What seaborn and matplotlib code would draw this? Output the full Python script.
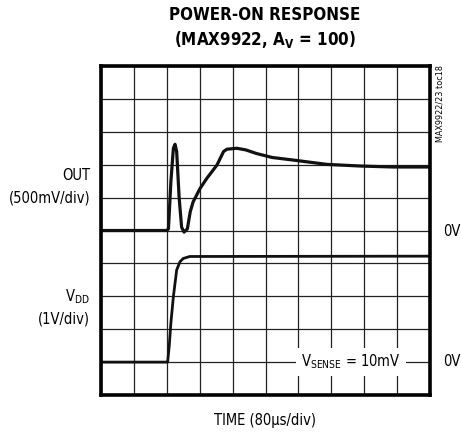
import numpy as np
import pandas as pd
import matplotlib
matplotlib.use('Agg')
import matplotlib.pyplot as plt
import seaborn as sns

# scope settings
time_per_div = 80      # us/div
out_per_div = 500      # mV/div
vdd_per_div = 1        # V/div

# OUT trace (time in us, voltage in mV)
out_time = [0, 160, 164, 170, 176, 180, 184, 190, 196, 202, 210, 217,
            224, 241, 257, 282, 298, 306, 330, 352, 378, 416, 468,
            549, 630, 710, 800]
out_mv = [0, 0, 25, 750, 1250, 1310, 1200, 500, 50, -25, 25, 285,
          435, 640, 790, 995, 1200, 1235, 1250, 1225, 1170, 1110, 1070,
          1005, 980, 965, 965]

# VDD trace (time in us, voltage in V)
vdd_time = [0, 162, 166, 170, 176, 184, 192, 200, 216, 800]
vdd_v = [0, 0, 0.5, 1.2, 1.99, 2.8, 3.05, 3.15, 3.21, 3.22]

out_zero_div = 5
vdd_zero_div = 1

df_out = pd.DataFrame({'x': np.array(out_time) / time_per_div,
                       'y': out_zero_div + np.array(out_mv) / out_per_div})
df_vdd = pd.DataFrame({'x': np.array(vdd_time) / time_per_div,
                       'y': vdd_zero_div + np.array(vdd_v) / vdd_per_div})

sns.set_style('white')
plt.rcParams['font.family'] = ['DejaVu Sans']
plt.rcParams['font.stretch'] = 'condensed'
plt.rcParams['text.color'] = 'black'

fig = plt.figure(figsize=(4.61, 4.32), dpi=100)
ax = fig.add_axes([101 / 461, 1 - 395 / 432, 329 / 461, 329 / 432])

sns.lineplot(data=df_out, x='x', y='y', ax=ax, color='#111111', linewidth=2.3)
sns.lineplot(data=df_vdd, x='x', y='y', ax=ax, color='#111111', linewidth=2.0)

ax.set_xlim(0, 10)
ax.set_ylim(0, 10)
ax.set_xticks(range(11))
ax.set_yticks(range(11))
ax.grid(True, color='#222222', linewidth=0.9)
ax.tick_params(length=0, labelbottom=False, labelleft=False)
ax.set_xlabel('')
ax.set_ylabel('')
for s in ax.spines.values():
    s.set_linewidth(2.6)
    s.set_color('black')

ax.text(7.6, vdd_zero_div, r'V$_{\mathregular{SENSE}}$ = 10mV', ha='center', va='center',
        fontsize=10.5, bbox=dict(facecolor='white', edgecolor='none', pad=3.5))

# labels outside the graticule
fig.text(265 / 461, 1 - 15 / 432, 'POWER-ON RESPONSE', ha='center', va='center',
         fontsize=12.2, fontweight='bold')
fig.text(265 / 461, 1 - 40 / 432, r'(MAX9922, A$_{\mathregular{V}}$ = 100)', ha='center',
         va='center', fontsize=12.2, fontweight='bold')
fig.text(90 / 461, 1 - 176 / 432, 'OUT', ha='right', va='center', fontsize=10.5)
fig.text(90 / 461, 1 - 198 / 432, '(500mV/div)', ha='right', va='center', fontsize=10.5)
fig.text(90 / 461, 1 - 297 / 432, r'V$_{\mathregular{DD}}$', ha='right', va='center', fontsize=10.5)
fig.text(90 / 461, 1 - 319 / 432, '(1V/div)', ha='right', va='center', fontsize=10.5)
fig.text(443 / 461, 1 - 231 / 432, '0V', ha='left', va='center', fontsize=10.5)
fig.text(443 / 461, 1 - 362 / 432, '0V', ha='left', va='center', fontsize=10.5)
fig.text(265 / 461, 1 - 420 / 432, 'TIME (80\u00b5s/div)', ha='center', va='center', fontsize=10.5)
fig.text(440 / 461, 1 - 65 / 432, 'MAX9922/23 toc18', ha='center', va='top', rotation=90,
         fontsize=6.5)

fig.savefig('out.png', dpi=100)
